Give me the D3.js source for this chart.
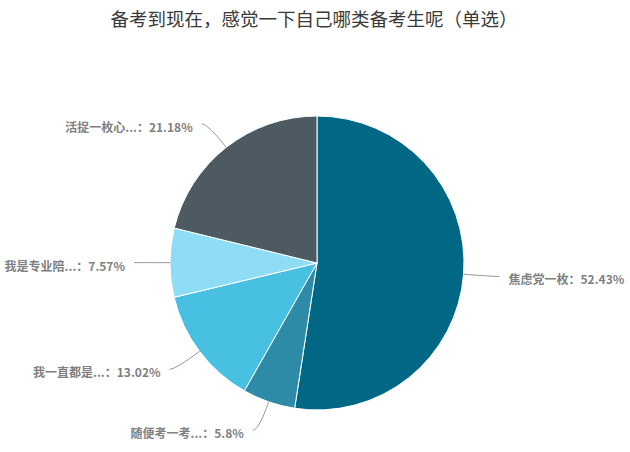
<!DOCTYPE html>
<html>
<head>
<meta charset="utf-8">
<script src="https://cdn.jsdelivr.net/npm/d3@7"></script>
<style>
  body { margin: 0; background: #fff; }
</style>
</head>
<body>
<svg id="drawing_region"></svg>
<script>
// chart data
const title = "备考到现在，感觉一下自己哪类备考生呢（单选）";
const categories = ["焦虑党一枚", "随便考一考...", "我一直都是...", "我是专业陪...", "活捉一枚心..."];
const values = [52.43, 5.8, 13.02, 7.57, 21.18];
const colors = ["#006885", "#2d8ba7", "#47c0e2", "#8fddf4", "#4d5a62"];

const width = 630, height = 452;
const cx = 317, cy = 263, radius = 147;
const len1 = 30, len2 = 6;

const svg = d3.select("#drawing_region")
    .attr("width", width)
    .attr("height", height);

svg.append("text")
    .attr("x", 314)
    .attr("y", 26)
    .attr("text-anchor", "middle")
    .attr("font-family", "'Noto Sans CJK SC', sans-serif")
    .attr("font-size", "18.5px")
    .attr("fill", "#3a3a3a")
    .text(title);

const chart = svg.append("g")
    .attr("transform", `translate(${cx}, ${cy})`);

const pie = d3.pie()
    .sort(null)
    .value(d => d);

const arc = d3.arc()
    .innerRadius(0)
    .outerRadius(radius);

const arcs = pie(values);

chart.selectAll("path.slice")
    .data(arcs)
    .enter()
    .append("path")
    .attr("class", "slice")
    .attr("d", arc)
    .attr("fill", (d, i) => colors[i])
    .attr("stroke", "#fff")
    .style("stroke-width", "1px");

// label lines and labels
const layout = arcs.map(d => {
    const a = (d.startAngle + d.endAngle) / 2;
    const sx = Math.sin(a), sy = -Math.cos(a);
    const p1 = [sx * radius, sy * radius];
    const p2 = [sx * (radius + len1), sy * (radius + len1)];
    const dir = sx >= 0 ? 1 : -1;
    const p3 = [p2[0] + dir * len2, p2[1]];
    return {p1, p2, p3, dir};
});

chart.selectAll("path.lbl-line")
    .data(layout)
    .enter()
    .append("path")
    .attr("class", "lbl-line")
    .attr("d", d => `M${d.p1[0]},${d.p1[1]} Q${d.p2[0]},${d.p2[1]} ${d.p3[0]},${d.p3[1]}`)
    .attr("fill", "none")
    .attr("stroke", "#999")
    .style("stroke-width", "1px");

chart.selectAll("text.lbl")
    .data(layout)
    .enter()
    .append("text")
    .attr("class", "lbl")
    .attr("x", d => d.p3[0] + d.dir * 9)
    .attr("y", d => d.p3[1] + 8)
    .attr("text-anchor", d => d.dir > 0 ? "start" : "end")
    .attr("font-family", "'Noto Sans CJK SC', sans-serif")
    .attr("font-size", "12px")
    .attr("font-weight", 700)
    .attr("fill", "#808080")
    .text((d, i) => `${categories[i]}：${values[i]}%`);
</script>
</body>
</html>
